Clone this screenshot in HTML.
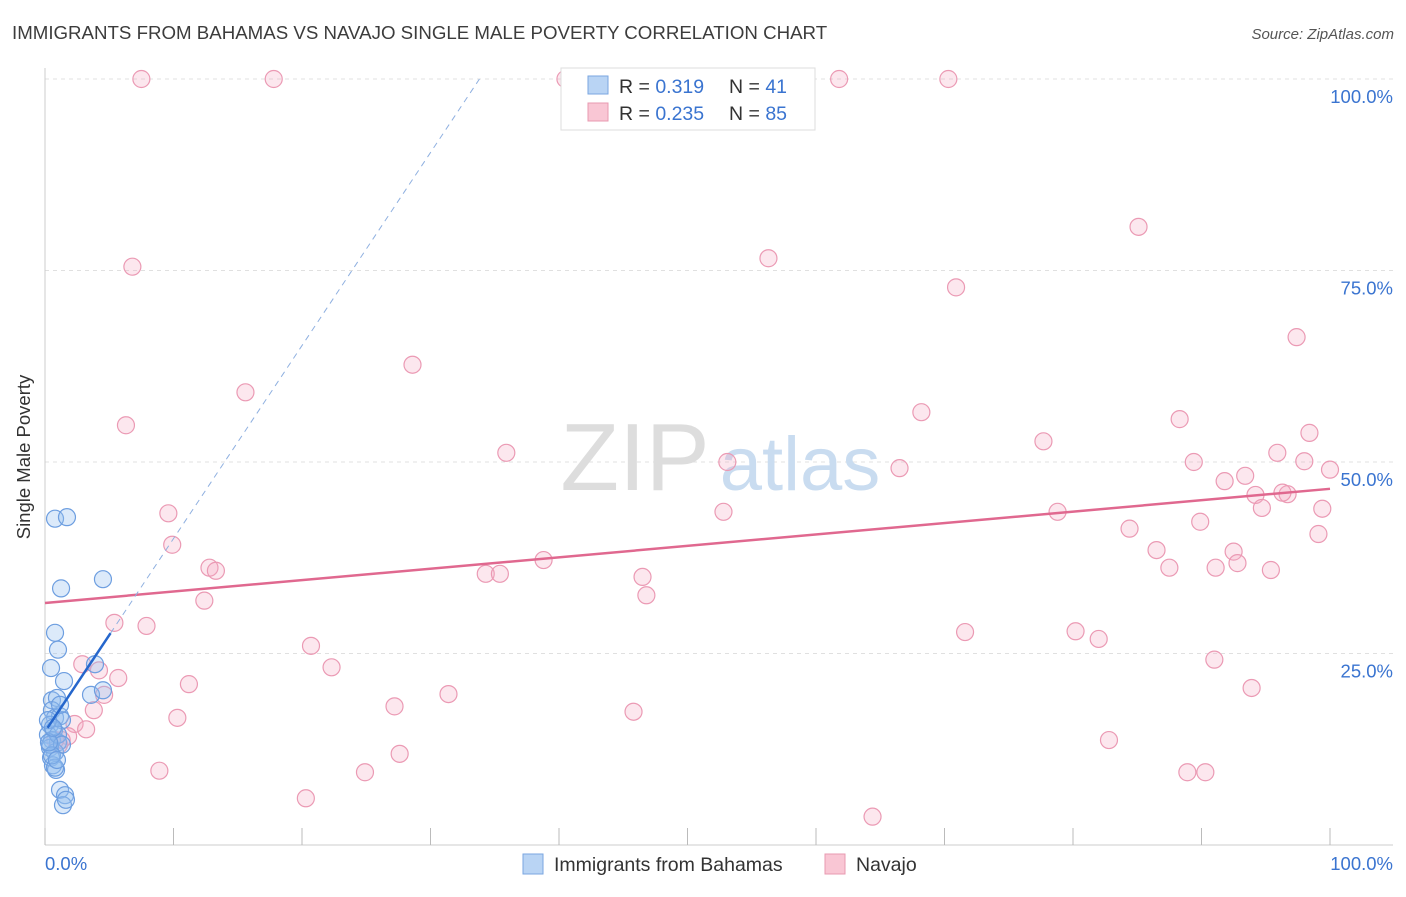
<!DOCTYPE html>
<html><head><meta charset="utf-8"><style>
body{margin:0;background:#fff;font-family:"Liberation Sans",sans-serif;}
svg text{font-family:"Liberation Sans",sans-serif;}
</style></head><body>
<svg id="chart" width="1406" height="892" viewBox="0 0 1406 892">
<text x="12" y="39" font-size="18.7" fill="#3c3c3c">IMMIGRANTS FROM BAHAMAS VS NAVAJO SINGLE MALE POVERTY CORRELATION CHART</text>
<text x="1394" y="39" font-size="15" fill="#555" font-style="italic" text-anchor="end">Source: ZipAtlas.com</text>
<text x="30" y="457" font-size="18.5" fill="#333" text-anchor="middle" transform="rotate(-90 30 457)">Single Male Poverty</text>
<g id="grid"></g>
<g id="watermark">
<text x="635" y="490" font-size="96" fill="#ddd" font-family="Liberation Serif" text-anchor="middle">ZIP</text>
<text x="800" y="490" font-size="76" fill="#c9dcf0" text-anchor="middle">atlas</text></g>
<g id="marks"></g>
<g id="legend">
<rect x="561" y="68" width="254" height="62" fill="#fff" stroke="#ddd"/>
<rect x="588" y="76" width="20" height="18" fill="#b9d4f4" stroke="#7aa6e0"/>
<rect x="588" y="103" width="20" height="18" fill="#f9c6d4" stroke="#e89ab0"/>
<text x="619" y="93" font-size="19.5" fill="#333">R = <tspan fill="#3a74d0">0.319</tspan></text>
<text x="729" y="93" font-size="19.5" fill="#333">N = <tspan fill="#3a74d0">41</tspan></text>
<text x="619" y="120" font-size="19.5" fill="#333">R = <tspan fill="#3a74d0">0.235</tspan></text>
<text x="729" y="120" font-size="19.5" fill="#333">N = <tspan fill="#3a74d0">85</tspan></text>
</g>
<g>
<rect x="523" y="854" width="20" height="20" fill="#b9d4f4" stroke="#7aa6e0"/>
<text x="554" y="871" font-size="19.5" fill="#333">Immigrants from Bahamas</text>
<rect x="825" y="854" width="20" height="20" fill="#f9c6d4" stroke="#e89ab0"/>
<text x="856" y="871" font-size="19.5" fill="#333">Navajo</text>
</g>
</svg>
<script>
const yTicks=[25,50,75,100];
const yTickLabels=["25.0%","50.0%","75.0%","100.0%"];
const xTickLabels=["0.0%","100.0%"];
const bahamasX=[0.78,1.71,1.25,4.51,0.78,1.01,0.47,1.48,3.89,3.58,4.51,0.54,0.93,0.54,0.78,1.17,0.39,0.7,1.32,0.23,0.54,1.01,0.39,0.78,0.47,0.62,0.86,1.17,1.56,1.4,0.78,0.39,0.23,1.01,1.32,0.54,0.93,0.31,0.62,1.63,1.17];
const bahamasY=[42.6,42.8,33.5,34.7,27.7,25.5,23.1,21.4,23.6,19.6,20.2,18.9,19.2,17.6,16.6,16.8,15.7,15.0,16.3,14.4,13.7,13.4,12.7,12.1,11.4,10.4,9.8,7.2,6.5,5.2,10.1,13.1,16.3,14.4,13.1,11.7,11.1,13.4,15.3,5.9,18.3];
const navajoX=[7.5,17.8,40.5,61.8,70.3,85.1,6.8,56.3,70.9,97.4,28.6,15.6,6.3,68.2,88.3,35.9,53.1,77.7,66.5,95.9,89.4,98.4,98.0,100,93.4,91.8,94.2,96.7,94.7,96.3,99.4,52.8,78.8,9.6,89.9,84.4,99.1,9.9,86.5,92.5,38.8,92.8,87.5,91.1,95.4,12.8,13.3,34.3,35.4,46.5,46.8,12.4,5.4,7.9,71.6,80.2,82.0,20.7,22.3,2.9,4.2,5.7,91.0,11.2,4.6,31.4,93.9,3.8,27.2,10.3,45.8,2.3,3.2,1.8,1.1,82.8,27.6,8.9,24.9,88.9,90.3,20.3,64.4,1.3,0.8];
const navajoY=[100,100,100,100,100,80.7,75.5,76.6,72.8,66.3,62.7,59.1,54.8,56.5,55.6,51.2,50.0,52.7,49.2,51.2,50.0,53.8,50.1,49.0,48.2,47.5,45.7,45.8,44.0,46.0,43.9,43.5,43.5,43.3,42.2,41.3,40.6,39.2,38.5,38.3,37.2,36.8,36.2,36.2,35.9,36.2,35.8,35.4,35.4,35.0,32.6,31.9,29.0,28.6,27.8,27.9,26.9,26.0,23.2,23.6,22.8,21.8,24.2,21.0,19.6,19.7,20.5,17.6,18.1,16.6,17.4,15.8,15.1,14.2,13.1,13.7,11.9,9.7,9.5,9.5,9.5,6.1,3.7,13.7,13.7];
const navajoTrend=[31.6,46.5];
const bahamasTrend=[14.8,2.52];
const bahamasSolidEnd=5.1;

const X0=45,X1=1330,Y0=845,Y100=79;
const sx=v=>X0+(X1-X0)*v/100;
const sy=v=>Y0-(Y0-Y100)*v/100;
const NS="http://www.w3.org/2000/svg";
function mk(tag,attrs,parent){const e=document.createElementNS(NS,tag);for(const k in attrs)e.setAttribute(k,attrs[k]);parent.appendChild(e);return e;}
const grid=document.getElementById('grid');
const marks=document.getElementById('marks');

yTicks.forEach((t,i)=>{
  const l=mk('line',{x1:X0,x2:1393,y1:sy(t),y2:sy(t),stroke:'#e0e0e0','stroke-dasharray':'4,4'},grid);
  
  
  const tx=mk('text',{x:1393,y:sy(t)+24,'font-size':18.5,fill:'#3a74d0','text-anchor':'end'},grid);
  tx.textContent=yTickLabels[i];
  
  
});
const ya=mk('line',{x1:X0,x2:X0,y1:68,y2:Y0,stroke:'#ccc'},grid);


const xa=mk('line',{x1:X0,x2:1393,y1:Y0,y2:Y0,stroke:'#ccc'},grid);


for(let i=0;i<=10;i++){
  const t=mk('line',{x1:sx(i*10),x2:sx(i*10),y1:828,y2:Y0,stroke:'#bbb'},grid);
  
  
}
const xl0=mk('text',{x:45,y:870,'font-size':18.5,fill:'#3a74d0'},grid);
xl0.textContent=xTickLabels[0];


const xl1=mk('text',{x:1393,y:870,'font-size':18.5,fill:'#3a74d0','text-anchor':'end'},grid);
xl1.textContent=xTickLabels[1];



navajoX.forEach((x,i)=>{
  const c=mk('circle',{cx:sx(x),cy:sy(navajoY[i]),r:8.5,fill:'rgba(246,170,195,0.28)',stroke:'#eb9ab4','stroke-width':1.2},marks);
  
  
});
bahamasX.forEach((x,i)=>{
  const c=mk('circle',{cx:sx(x),cy:sy(bahamasY[i]),r:8.5,fill:'rgba(150,190,240,0.33)',stroke:'#6d9ee0','stroke-width':1.2},marks);
  
  
});
const nt=mk('line',{x1:sx(0),y1:sy(navajoTrend[0]),x2:sx(100),y2:sy(navajoTrend[1]),stroke:'#e0688f','stroke-width':2.5},marks);


const xEnd=(100-bahamasTrend[0])/bahamasTrend[1];
const bd=mk('line',{x1:sx(bahamasSolidEnd),y1:sy(bahamasTrend[0]+bahamasTrend[1]*bahamasSolidEnd),x2:sx(xEnd),y2:sy(100),stroke:'#8fb0e0','stroke-width':1,'stroke-dasharray':'6,5'},marks);


const bs=mk('line',{x1:sx(0.2),y1:sy(bahamasTrend[0]+bahamasTrend[1]*0.2),x2:sx(bahamasSolidEnd),y2:sy(bahamasTrend[0]+bahamasTrend[1]*bahamasSolidEnd),stroke:'#2566cc','stroke-width':2.5},marks);


</script>
</body></html>
